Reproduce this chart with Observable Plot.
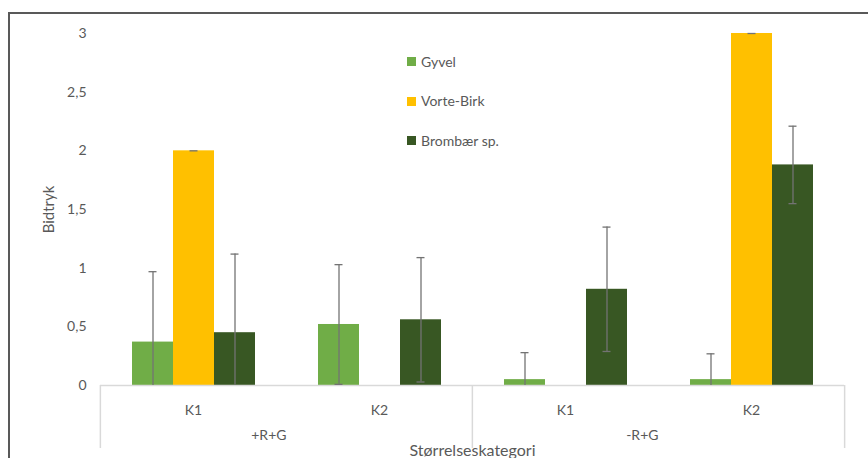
<!DOCTYPE html>
<html>
<head>
<meta charset="utf-8">
<script src="https://cdn.jsdelivr.net/npm/d3@7"></script>
<script src="https://cdn.jsdelivr.net/npm/@observablehq/plot@0.6"></script>
<style>
  html, body { margin: 0; padding: 0; background: #fff; overflow: hidden; }
  #wrap { position: relative; width: 868px; height: 458px; overflow: hidden; font-family: Lato, "Open Sans", sans-serif; }
  #border { position: absolute; left: 8px; top: 12px; width: 900px; height: 500px; border-top: 2px solid #595959; border-left: 2px solid #595959; pointer-events: none; }
  #legend { position: absolute; left: 407px; top: 42px; color: #595959; font-size: 14px; }
  #legend .row { height: 39.5px; line-height: 20px; display: flex; align-items: center; }
  #legend .sw { width: 9px; height: 9px; margin-right: 5px; display: inline-block; }
  #chart svg { display: block; }
</style>
</head>
<body>
<div id="wrap">
  <div id="chart"></div>
  <div id="legend"></div>
  <div id="border"></div>
</div>
<script>
// ---- data ----
const groups = ["+R+G", "+R+G", "-R+G", "-R+G"];
const sizes = ["K1", "K2", "K1", "K2"];
const series = ["Gyvel", "Vorte-Birk", "Brombær sp."];
const colors = ["#70AD47", "#FFC000", "#385723"];
const gyvel = [0.37, 0.52, 0.05, 0.05];
const gyvelErr = [0.60, 0.51, 0.23, 0.22];
const vorte = [2.0, null, null, 3.0];
const vorteErr = [0, null, null, 0];
const bromb = [0.45, 0.56, 0.82, 1.88];
const brombErr = [0.67, 0.53, 0.53, 0.33];
const yTicks = [0, 0.5, 1, 1.5, 2, 2.5, 3];
const xTitle = "Størrelseskategori";
const yTitle = "Bidtryk";

// ---- table ----
const cats = groups.map((g, i) => g + "|" + sizes[i]);
const values = [gyvel, vorte, bromb];
const errs = [gyvelErr, vorteErr, brombErr];
const rows = [];
cats.forEach((c, i) => {
  series.forEach((s, j) => {
    const v = values[j][i];
    if (v == null) return;
    const e = errs[j][i];
    rows.push({cat: c, group: groups[i], size: sizes[i], series: s, value: v, err: e, lo: Math.max(0, v - e), hi: v + e});
  });
});
const groupNames = Array.from(new Set(groups));

// ---- layout ----
const W = 868, H = 458, ML = 99, MR = 24, MT = 33, MB = 73;
const step = (W - ML - MR) / cats.length;
const frameH = H - MT - MB;
const grid = "#d9d9d9";
const errColor = "#737373";

const plot = Plot.plot({
  width: W, height: H,
  marginLeft: ML, marginRight: MR, marginTop: MT, marginBottom: MB,
  style: {fontFamily: "Lato, 'Open Sans', sans-serif", color: "#595959", background: "transparent", overflow: "visible"},
  fx: {domain: cats, padding: 0},
  x: {domain: series, paddingInner: 0, paddingOuter: 0.75, axis: null},
  y: {domain: [0, 3]},
  color: {domain: series, range: colors},
  marks: [
    Plot.axisY({ticks: yTicks, tickFormat: d => String(d).replace(".", ","), tickSize: 0, tickPadding: 14, fontSize: 14, label: null}),
    Plot.axisY({ticks: [], tickSize: 0, label: yTitle, labelAnchor: "center", labelArrow: "none", labelOffset: 57, fontSize: 15}),
    Plot.axisFx({anchor: "bottom", tickSize: 0, tickPadding: 20, fontSize: 14, tickFormat: d => d.split("|")[1], label: null}),
    Plot.axisFx({anchor: "bottom", ticks: [], tickSize: 0, label: xTitle, labelAnchor: "center", labelArrow: "none", labelOffset: 70, fontSize: 16}),
    Plot.barY(rows, {fx: "cat", x: "series", y: "value", fill: "series"}),
    Plot.ruleY([0], {stroke: grid, strokeWidth: 1.5}),
    Plot.ruleX(rows.filter(d => d.err > 0), {fx: "cat", x: "series", y1: "lo", y2: "hi", stroke: errColor, strokeWidth: 1.3}),
    Plot.tickY(rows, {fx: "cat", x: "series", y: "hi", stroke: errColor, strokeWidth: 1.3, insetLeft: 16.5, insetRight: 16.5}),
    Plot.tickY(rows.filter(d => d.err > 0 && d.value - d.err >= 0), {fx: "cat", x: "series", y: "lo", stroke: errColor, strokeWidth: 1.3, insetLeft: 16.5, insetRight: 16.5}),
    Plot.text(groupNames, {fx: d => cats[groups.indexOf(d)], text: d => d, frameAnchor: "bottom-right", dy: 54, fontSize: 14, fill: "#595959"}),
    Plot.ruleX([cats[0], cats[2]], {fx: d => d, x: null, dx: -step / 2, insetTop: frameH, insetBottom: -63, stroke: grid, strokeWidth: 1.5}),
    Plot.ruleX([cats[3]], {fx: d => d, x: null, dx: step / 2, insetTop: frameH, insetBottom: -63, stroke: grid, strokeWidth: 1.5})
  ]
});
document.getElementById("chart").appendChild(plot);

// legend
const leg = document.getElementById("legend");
series.forEach((s, i) => {
  const r = document.createElement("div");
  r.className = "row";
  const sw = document.createElement("span");
  sw.className = "sw";
  sw.style.background = colors[i];
  r.appendChild(sw);
  r.appendChild(document.createTextNode(s));
  leg.appendChild(r);
});
</script>
</body>
</html>
